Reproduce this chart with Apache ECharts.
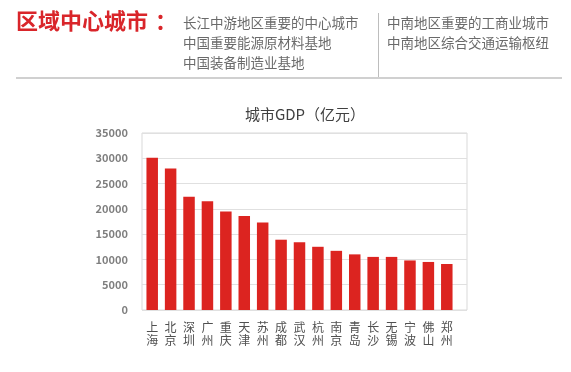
<!DOCTYPE html>
<html>
<head>
<meta charset="utf-8">
<script src="https://cdn.jsdelivr.net/npm/echarts@6/dist/echarts.min.js"></script>
<style>
html,body{margin:0;padding:0;background:#fff;}
#chart{width:571px;height:372px;}
</style>
</head>
<body>
<div id="chart"></div>
<script>
const headTitle = '区域中心城市';
const headColon = '：';
const leftNotes = ['长江中游地区重要的中心城市', '中国重要能源原材料基地', '中国装备制造业基地'];
const rightNotes = ['中南地区重要的工商业城市', '中南地区综合交通运输枢纽'];
const chartTitle = '城市GDP（亿元）';
const cities = ['上海','北京','深圳','广州','重庆','天津','苏州','成都','武汉','杭州','南京','青岛','长沙','无锡','宁波','佛山','郑州'];
const gdp = [30100, 28000, 22400, 21500, 19500, 18600, 17300, 13900, 13400, 12500, 11700, 11000, 10500, 10500, 9800, 9500, 9100];
const yMin = 0, yMax = 35000, yStep = 5000;

const FONT = '"Noto Sans CJK SC", "Noto Sans", sans-serif';
const chart = echarts.init(document.getElementById('chart'), null, {renderer: 'canvas'});

const graphics = [
  {type:'text', left:16, top:10, style:{text:headTitle, font:'bold 22px ' + FONT, fill:'#d9252a'}},
  {type:'text', left:155, top:10, style:{text:headColon, font:'bold 22px ' + FONT, fill:'#d9252a'}},
  {type:'text', left:183, top:13, style:{text:leftNotes.join('\n'), font:'13.5px ' + FONT, lineHeight:20, fill:'#6a6a6a'}},
  {type:'text', left:387, top:13, style:{text:rightNotes.join('\n'), font:'13.5px ' + FONT, lineHeight:20, fill:'#6a6a6a'}},
  {type:'line', shape:{x1:378.5, y1:13, x2:378.5, y2:77}, style:{stroke:'#bdbdbd', lineWidth:1}},
  {type:'line', shape:{x1:16, y1:78, x2:562, y2:78}, style:{stroke:'#d0d0d0', lineWidth:2}}
];

chart.setOption({
  animation: false,
  backgroundColor: '#fff',
  textStyle: {fontFamily: FONT},
  title: {
    text: chartTitle, left: 300, top: 102, textAlign: 'center',
    textStyle: {fontSize: 15, fontWeight: 'normal', color: '#404040', fontFamily: FONT}
  },
  graphic: graphics,
  grid: [
    {left: 142, right: 104, top: 133, bottom: 62, show: true, borderColor: '#d9d9d9', borderWidth: 1},
    {left: 143, right: 115, top: 133, bottom: 62}
  ],
  xAxis: [
    {gridIndex: 0, type: 'value', min: 0, max: 1, show: false},
    {
      gridIndex: 1, type: 'category', data: cities,
      axisLine: {show: false}, axisTick: {show: false},
      axisLabel: {
        interval: 0, margin: 11, fontSize: 12, lineHeight: 13, color: '#505050', fontFamily: FONT,
        formatter: v => v.split('').join('\n')
      }
    }
  ],
  yAxis: [
    {
      gridIndex: 0, type: 'value', min: yMin, max: yMax, interval: yStep,
      axisLine: {show: false}, axisTick: {show: false},
      axisLabel: {margin: 14, fontSize: 11, fontWeight: 'bold', color: '#7f7f7f', fontFamily: FONT,
        formatter: v => String(v)},
      splitLine: {lineStyle: {color: '#e0e0e0', width: 1}}
    },
    {gridIndex: 1, type: 'value', min: yMin, max: yMax, interval: yStep, show: false, splitLine: {show: false}}
  ],
  series: [{
    type: 'bar', xAxisIndex: 1, yAxisIndex: 1, data: gdp,
    barWidth: 11.5, itemStyle: {color: '#dc2420'}
  }]
});
</script>
</body>
</html>
